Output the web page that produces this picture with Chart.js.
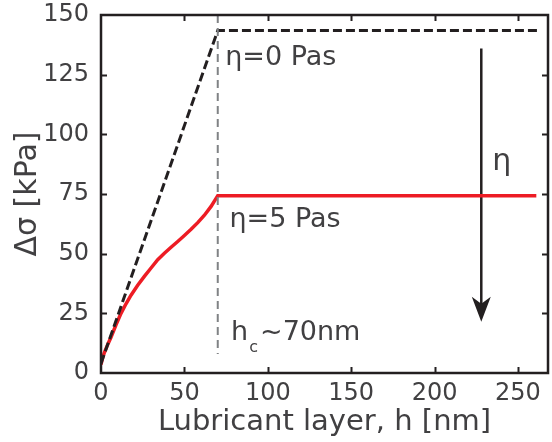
<!DOCTYPE html>
<html><head><meta charset="utf-8">
<script src="https://cdn.jsdelivr.net/npm/chart.js@4"></script>
<style>html,body{margin:0;padding:0;background:#fff;}#wrap{width:552px;height:442px;}</style>
</head><body><div id="wrap"><canvas id="c" width="552" height="442"></canvas></div>
<script>
// ---- data ----
const hNoVisc = [0, 70, 262];
const sigmaNoVisc = [4, 143.5, 143.5];
const hVisc = [0, 1, 2, 3, 4.5, 6, 9, 12, 15, 18, 22, 26, 30, 34, 38, 42, 46, 50, 54, 58, 62, 66, 70, 261];
const sigmaVisc = [3.5, 6.5, 8.5, 10.2, 12.7, 15, 20.2, 25, 29, 32.6, 36.8, 40.5, 44, 47.5, 50.2, 52.7, 55.1, 57.6, 60.2, 63, 66.1, 69.8, 74.3, 74.3];
const hcLineH = [70, 70];
const hcLineSigma = [150, 8];
const arrowH = [228, 228];
const arrowSigma = [136, 21.5];
const xTicks = [0, 50, 100, 150, 200, 250];
const yTicks = [0, 25, 50, 75, 100, 125, 150];
const xLabel = 'Lubricant layer, h [nm]';
const yLabel = 'Δσ [kPa]';
const noteNoVisc = {text: 'η=0 Pas', h: 74.5, s: 129};
const noteVisc = {text: 'η=5 Pas', h: 77, s: 61.3};
const noteHc = {main: 'h', sub: 'c', rest: '~70nm', h: 78, s: 13.8};
const noteEta = {text: 'η', h: 234.5, s: 85};

// ---- style ----
const TXT = '#414042';
const FAM = "'DejaVu Sans', sans-serif";
const pts = (xs, ys) => xs.map((x, i) => ({x: x, y: ys[i]}));

const deco = {
  id: 'deco',
  afterDatasetsDraw(chart) {
    const {ctx, chartArea: a, scales: {x, y}} = chart;
    ctx.save();
    // frame
    ctx.strokeStyle = '#231f20';
    ctx.lineWidth = 2.5;
    ctx.strokeRect(a.left, a.top, a.right - a.left, a.bottom - a.top);
    // inward ticks
    ctx.lineWidth = 2;
    const L = 6;
    xTicks.forEach(v => {
      const px = Math.round(x.getPixelForValue(v)) + 0.5;
      if (px <= a.left + 2 || px >= a.right - 2) return;
      ctx.beginPath();
      ctx.moveTo(px, a.bottom); ctx.lineTo(px, a.bottom - L);
      ctx.moveTo(px, a.top); ctx.lineTo(px, a.top + L);
      ctx.stroke();
    });
    yTicks.forEach(v => {
      const py = Math.round(y.getPixelForValue(v)) + 0.5;
      if (py <= a.top + 2 || py >= a.bottom - 2) return;
      ctx.beginPath();
      ctx.moveTo(a.left, py); ctx.lineTo(a.left + L, py);
      ctx.moveTo(a.right, py); ctx.lineTo(a.right - L, py);
      ctx.stroke();
    });
    // arrow head
    const ax = x.getPixelForValue(arrowH[1]);
    const ay = y.getPixelForValue(arrowSigma[1]);
    ctx.fillStyle = '#231f20';
    ctx.beginPath();
    ctx.moveTo(ax, ay);
    ctx.lineTo(ax - 9.5, ay - 25);
    ctx.lineTo(ax, ay - 18);
    ctx.lineTo(ax + 9.5, ay - 25);
    ctx.closePath();
    ctx.fill();
    // annotations
    ctx.fillStyle = TXT;
    ctx.textBaseline = 'alphabetic';
    ctx.textAlign = 'left';
    ctx.font = '27px ' + FAM;
    ctx.fillText(noteNoVisc.text, x.getPixelForValue(noteNoVisc.h), y.getPixelForValue(noteNoVisc.s));
    ctx.fillText(noteVisc.text, x.getPixelForValue(noteVisc.h), y.getPixelForValue(noteVisc.s));
    let hx = x.getPixelForValue(noteHc.h), hy = y.getPixelForValue(noteHc.s);
    ctx.fillText(noteHc.main, hx, hy);
    hx += ctx.measureText(noteHc.main).width + 1;
    ctx.font = '16px ' + FAM;
    ctx.fillText(noteHc.sub, hx, hy + 12);
    hx += ctx.measureText(noteHc.sub).width + 2;
    ctx.font = '27px ' + FAM;
    ctx.fillText(noteHc.rest, hx, hy);
    ctx.font = '30px ' + FAM;
    ctx.fillText(noteEta.text, x.getPixelForValue(noteEta.h), y.getPixelForValue(noteEta.s));
    ctx.restore();
  }
};

new Chart(document.getElementById('c'), {
  type: 'scatter',
  data: {
    datasets: [
      {data: pts(hcLineH, hcLineSigma), showLine: true, borderColor: '#808285', borderWidth: 2, borderDash: [8, 5], pointRadius: 0},
      {data: pts(hNoVisc, sigmaNoVisc), showLine: true, borderColor: '#231f20', borderWidth: 3, borderDash: [9, 4], pointRadius: 0},
      {data: pts(hVisc, sigmaVisc), showLine: true, borderColor: '#ed1c24', borderWidth: 3.5, pointRadius: 0, tension: 0},
      {data: pts(arrowH, [arrowSigma[0], arrowSigma[1] + 6]), showLine: true, borderColor: '#231f20', borderWidth: 2.5, pointRadius: 0}
    ]
  },
  options: {
    responsive: false,
    animation: false,
    events: [],
    layout: {padding: {top: 15, right: 4, left: 0, bottom: 0}},
    plugins: {legend: {display: false}, tooltip: {enabled: false}},
    scales: {
      x: {
        type: 'linear', min: 0, max: 268,
        afterBuildTicks: s => { s.ticks = xTicks.map(v => ({value: v})); },
        afterFit: s => { s.height = 69; s.paddingLeft = 0; s.paddingRight = 0; s.paddingTop = 0; s.paddingBottom = 0; },
        grid: {display: false, drawTicks: false},
        border: {display: false},
        ticks: {color: TXT, font: {family: FAM, size: 24}, padding: 6, maxRotation: 0, autoSkip: false},
        title: {display: true, text: xLabel, color: TXT, font: {family: FAM, size: 29}, padding: {bottom: 2}}
      },
      y: {
        type: 'linear', min: 0, max: 150,
        afterBuildTicks: s => { s.ticks = yTicks.map(v => ({value: v})); },
        afterFit: s => { s.width = 101; s.paddingLeft = 0; s.paddingRight = 0; s.paddingTop = 0; s.paddingBottom = 0; },
        grid: {display: false, drawTicks: false},
        border: {display: false},
        ticks: {color: TXT, font: {family: FAM, size: 24}, padding: 12, autoSkip: false},
        title: {display: true, text: yLabel, color: TXT, font: {family: FAM, size: 30}, padding: {top: 10}}
      }
    }
  },
  plugins: [deco]
});
</script></body></html>
